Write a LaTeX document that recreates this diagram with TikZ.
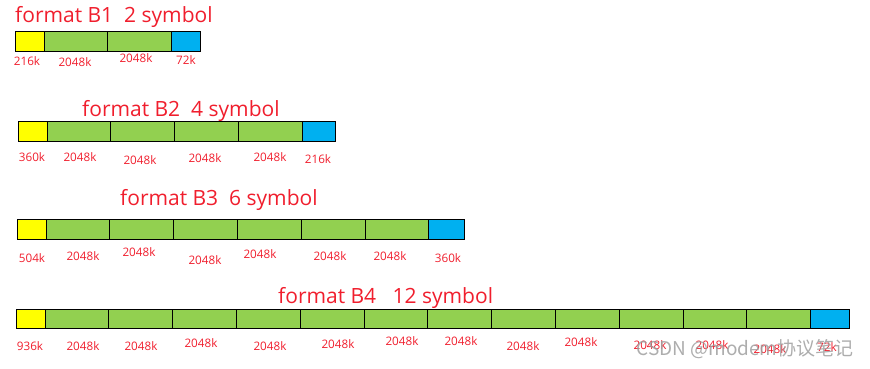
\documentclass[tikz,border=0pt]{standalone}
\usepackage{fontspec}
\setmainfont{Open Sans}
\newfontfamily\cjk{Noto Sans CJK SC}
\usetikzlibrary{positioning}

\definecolor{headyellow}{RGB}{255,255,0}
\definecolor{symgreen}{RGB}{146,208,80}
\definecolor{tailblue}{RGB}{0,176,240}
\definecolor{labred}{RGB}{240,30,45}

\begin{document}
\begin{tikzpicture}[x=1pt,y=-1pt]
  \tikzset{cell/.style={draw, line width=0.8pt, inner sep=0pt, outer sep=0pt, minimum height=19.5pt},
           ycell/.style={cell, fill=headyellow, minimum width=29pt},
           gcell/.style={cell, fill=symgreen},
           bcell/.style={cell, fill=tailblue},
           title/.style={text=labred, font=\fontsize{21}{21}\selectfont, anchor=base west, inner sep=0pt},
           size/.style={text=labred, font=\fontsize{11.7}{11.7}\selectfont, inner sep=0pt}}
  \useasboundingbox (0,0) rectangle (870,369);

  % titles
  \node[title] (t1) at (15,23) {format B1\ \ 2 symbol};
  \node[title] (t2) at (82,116) {format B2\ \ 4 symbol};
  \node[title] (t3) at (120,205) {format B3\ \ 6 symbol};
  \node[title] (t4) at (278,303) {format B4\ \ \ 12 symbol};

  % bars: row/start x/centre y/green cells/green width/blue width
  \foreach \r/\x/\y/\n/\gw/\bw in {1/15/41.5/2/63.5/29, 2/18/131.5/4/63.75/33,
                                   3/17/229.5/6/63.8/36, 4/16/319/12/63.8/39} {
    \node[ycell, anchor=west] (b\r g0) at (\x,\y) {};
    \foreach \i [remember=\i as \p (initially 0)] in {1,...,\n}
      \node[gcell, minimum width=\gw pt, right=0pt of b\r g\p] (b\r g\i) {};
    \node[bcell, minimum width=\bw pt, right=0pt of b\r g\n] (b\r b) {};
  }

  % sizes
  \foreach \x/\y/\t [count=\k] in {27/61/216k, 75/62/2048k, 136/58/2048k, 186/60.5/72k}
    \node[size] (s1\k) at (\x,\y) {\t};
  \foreach \x/\y/\t [count=\k] in {32/157/360k, 80/157/2048k, 140/160/2048k, 205/158/2048k,
                                   270/157/2048k, 318/159/216k}
    \node[size] (s2\k) at (\x,\y) {\t};
  \foreach \x/\y/\t [count=\k] in {32/258/504k, 83/256/2048k, 139/252/2048k, 205/260/2048k,
                                   260/254/2048k, 330/256/2048k, 390/256/2048k, 448/258/360k}
    \node[size] (s3\k) at (\x,\y) {\t};
  \foreach \x/\y/\t [count=\k] in {30/346/936k, 83/346/2048k, 141/346/2048k, 201/343/2048k,
                                   270/346/2048k, 338/344/2048k, 402/341/2048k, 461/341.5/2048k,
                                   523/346/2048k, 581/342.5/2048k, 650/345/2048k, 712/345/2048k,
                                   770/349/2048k, 827/347/72k}
    \node[size] (s4\k) at (\x,\y) {\t};

  % watermark
  \node[text=gray!75, opacity=0.85, inner sep=0pt, font=\cjk\fontsize{19}{19}\selectfont]
    (mark) at (745,349) {CSDN @modem协议笔记};
\end{tikzpicture}
\end{document}
